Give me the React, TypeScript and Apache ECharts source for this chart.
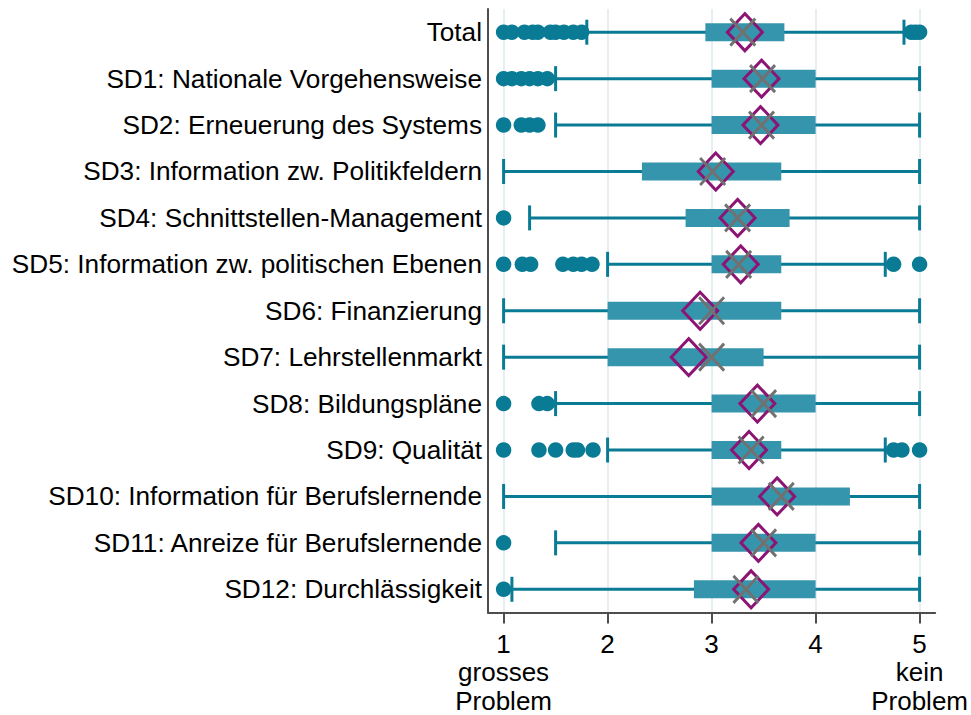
import React, { useEffect, useRef } from "react";
import * as echarts from "echarts";

const categories = [
  "Total",
  "SD1: Nationale Vorgehensweise",
  "SD2: Erneuerung des Systems",
  "SD3: Information zw. Politikfeldern",
  "SD4: Schnittstellen-Management",
  "SD5: Information zw. politischen Ebenen",
  "SD6: Finanzierung",
  "SD7: Lehrstellenmarkt",
  "SD8: Bildungspläne",
  "SD9: Qualität",
  "SD10: Information für Berufslernende",
  "SD11: Anreize für Berufslernende",
  "SD12: Durchlässigkeit",
];

const lowerWhisker = [1.8, 1.5, 1.5, 1.0, 1.25, 2.0, 1.0, 1.0, 1.5, 2.0, 1.0, 1.5, 1.08];
const q1 = [2.94, 3.0, 3.0, 2.33, 2.75, 3.0, 2.0, 2.0, 3.0, 3.0, 3.0, 3.0, 2.83];
const q3 = [3.7, 4.0, 4.0, 3.67, 3.75, 3.67, 3.67, 3.5, 4.0, 3.67, 4.33, 4.0, 4.0];
const upperWhisker = [4.85, 5.0, 5.0, 5.0, 5.0, 4.67, 5.0, 5.0, 5.0, 4.67, 5.0, 5.0, 5.0];
const diamondValues = [3.32, 3.48, 3.47, 3.04, 3.25, 3.28, 2.89, 2.78, 3.44, 3.36, 3.63, 3.45, 3.38];
const crossValues = [3.3, 3.49, 3.48, 3.01, 3.25, 3.26, 3.0, 3.0, 3.5, 3.38, 3.67, 3.5, 3.33];
const outliers: number[][] = [
  [1.0, 1.08, 1.2, 1.28, 1.33, 1.45, 1.5, 1.58, 1.67, 1.75, 4.92, 4.96, 5.0],
  [1.0, 1.08, 1.17, 1.25, 1.33, 1.42],
  [1.0, 1.17, 1.25, 1.33],
  [],
  [1.0],
  [1.0, 1.18, 1.26, 1.57, 1.67, 1.75, 1.85, 4.75, 5.0],
  [],
  [],
  [1.0, 1.34, 1.42],
  [1.0, 1.34, 1.5, 1.67, 1.71, 1.86, 4.75, 4.83, 5.0],
  [],
  [1.0],
  [1.0],
];
const tickValues = [1, 2, 3, 4, 5];
const tickLabels: Record<number, string> = {
  1: "1\ngrosses\nProblem",
  2: "2",
  3: "3",
  4: "4",
  5: "5\nkein\nProblem",
};

const FONT = '"Liberation Sans", Arial, sans-serif';
const AXIS_COLOR = "#4d4d4d";
const WHISKER = "#0a7b95";
const BOX = "#3595ad";

export default function App() {
  const ref = useRef<HTMLDivElement>(null);
  useEffect(() => {
    document.body.style.margin = "0";
    if (!ref.current) return;
    const chart = echarts.init(ref.current, undefined, { renderer: "svg" });

    const boxData = categories.map((c, i) => [i, lowerWhisker[i], q1[i], q3[i], upperWhisker[i]]);
    const outlierData: any[] = [];
    outliers.forEach((list, i) => list.forEach((v) => outlierData.push([v, i])));

    chart.setOption({
      animation: false,
      grid: { left: 488, top: 9, width: 448, height: 609.5, containLabel: false },
      xAxis: {
        type: "value",
        min: 0.85,
        max: 5.15,
        axisLine: { show: true, lineStyle: { color: AXIS_COLOR, width: 2 } },
        axisTick: {
          show: true,
          customValues: tickValues,
          length: 11,
          lineStyle: { color: AXIS_COLOR, width: 2 },
        },
        axisLabel: {
          customValues: tickValues,
          formatter: (v: number) => tickLabels[v] ?? String(v),
          fontSize: 26,
          lineHeight: 28.5,
          margin: 17,
          color: "#000",
          fontFamily: FONT,
        },
        splitLine: { show: false },
      },
      yAxis: {
        type: "category",
        data: categories,
        inverse: true,
        axisLine: { show: true, lineStyle: { color: AXIS_COLOR, width: 2 } },
        axisTick: { show: false },
        axisLabel: { fontSize: 26.2, color: "#000", fontFamily: FONT, margin: 6 },
        splitLine: { show: false },
      },
      series: [
        {
          type: "custom",
          z: 2,
          encode: { x: [1, 2, 3, 4], y: 0 },
          data: boxData,
          renderItem: (params: any, api: any) => {
            const i = api.value(0);
            const pL = api.coord([api.value(1), i]);
            const p1 = api.coord([api.value(2), i]);
            const p3 = api.coord([api.value(3), i]);
            const pU = api.coord([api.value(4), i]);
            const y = pL[1];
            const lineStyle = { stroke: WHISKER, lineWidth: 3 };
            return {
              type: "group",
              children: [
                { type: "line", shape: { x1: pL[0], y1: y, x2: pU[0], y2: y }, style: lineStyle },
                { type: "line", shape: { x1: pL[0], y1: y - 12.5, x2: pL[0], y2: y + 12.5 }, style: lineStyle },
                { type: "line", shape: { x1: pU[0], y1: y - 12.5, x2: pU[0], y2: y + 12.5 }, style: lineStyle },
                { type: "rect", shape: { x: p1[0], y: y - 9, width: p3[0] - p1[0], height: 18 }, style: { fill: BOX } },
              ],
            };
          },
          markLine: {
            silent: true,
            symbol: "none",
            z: 0,
            label: { show: false },
            lineStyle: { color: "#e6eef2", width: 2, type: "solid" },
            data: tickValues.map((v) => ({ xAxis: v })),
          },
        },
        {
          type: "scatter",
          z: 3,
          symbol: "circle",
          symbolSize: 15.5,
          itemStyle: { color: WHISKER, opacity: 1 },
          data: outlierData,
        },
        {
          type: "scatter",
          z: 4,
          symbol: "diamond",
          symbolSize: [35, 37],
          itemStyle: { color: "transparent", borderColor: "#8c1574", borderWidth: 3, opacity: 1 },
          data: diamondValues.map((v, i) => [v, i]),
        },
        {
          type: "scatter",
          z: 5,
          symbol: "path://M0 0L10 10M10 0L0 10",
          symbolSize: [25, 27],
          itemStyle: { color: "transparent", borderColor: "#717171", borderWidth: 3, opacity: 1 },
          data: crossValues.map((v, i) => [v, i]),
        },
      ],
    });
    return () => chart.dispose();
  }, []);
  return <div ref={ref} style={{ width: 971, height: 715 }} />;
}
